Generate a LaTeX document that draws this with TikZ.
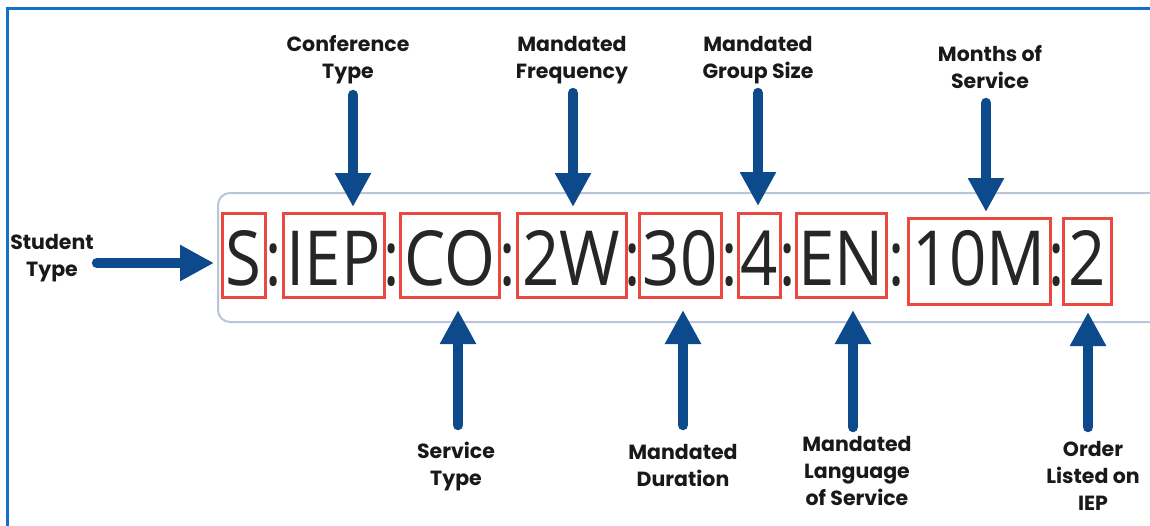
\documentclass[tikz,border=0pt]{standalone}
\usepackage{fontspec}
\setmainfont{Poppins}
\newfontfamily\codefont{Open Sans}[FakeStretch=0.86]
\newfontfamily\colonfont{Open Sans}[FakeStretch=0.8]
\usetikzlibrary{arrows.meta}
\definecolor{arrblue}{RGB}{13,74,140}
\definecolor{boxred}{RGB}{235,72,66}
\definecolor{frameblue}{RGB}{18,114,200}
\definecolor{railgray}{RGB}{186,197,217}
\definecolor{codegray}{RGB}{38,38,38}
\definecolor{labelblack}{RGB}{25,25,25}
\tikzset{
  lbl/.style={font=\bfseries\fontsize{20.5}{27}\selectfont, align=center, text=labelblack, inner sep=0pt},
  segtext/.style={font=\codefont\fontsize{76}{80}\selectfont, text=codegray, inner sep=0pt, anchor=base},
  redbox/.style={draw=boxred, line width=3pt},
  colon/.style={font=\colonfont\fontsize{76}{80}\selectfont, text=codegray, inner sep=0pt, anchor=base},
  arr/.style={draw=arrblue, line width=10.5pt, line cap=round, -{Triangle[width=34pt,length=34pt]}},
  frame/.style={draw=frameblue, line width=3pt},
  rail/.style={draw=railgray, line width=2pt, rounded corners=12pt},
}
\begin{document}
\begin{tikzpicture}[x=1pt,y=-1pt]
\useasboundingbox (0,0) rectangle (1150,525);
\fill[white] (0,0) rectangle (1150,525);
\draw[frame] (7.5,8.5) rectangle (1170,545);
\draw[rail] (218,193) rectangle (1185,322);

% red boxes
\draw[redbox] (222,213) rectangle (265,297);
\draw[redbox] (283,213) rectangle (384,297);
\draw[redbox] (400,213) rectangle (499,297);
\draw[redbox] (517,213) rectangle (626,297);
\draw[redbox] (639,213) rectangle (721,297);
\draw[redbox] (738,213) rectangle (780,297);
\draw[redbox] (796,213) rectangle (886,297);
\draw[redbox] (908,218) rectangle (1050,304);
\draw[redbox] (1063,218) rectangle (1111,304);

% code segments
\node[segtext] (s) at (243.5,285) {S};
\node[segtext] (iep) at (333.5,285) {IEP};
\node[segtext] (co) at (449.5,285) {CO};
\node[segtext] (w2) at (571.5,285) {2W};
\node[segtext] (d30) at (680,285) {30};
\node[segtext] (g4) at (759,285) {4};
\node[segtext] (en) at (841,285) {EN};
\node[segtext] (m10) at (979,285) {10M};
\node[segtext] (o2) at (1087,285) {2};

% colons
\node[colon] (c1) at (274,285) {:};
\node[colon] (c2) at (392,285) {:};
\node[colon] (c3) at (508,285) {:};
\node[colon] (c4) at (632.5,285) {:};
\node[colon] (c5) at (729.5,285) {:};
\node[colon] (c6) at (788,285) {:};
\node[colon] (c7) at (897,285) {:};
\node[colon] (c8) at (1056.5,285) {:};

% labels
\node[lbl] (stu) at (52,258) {Student\\Type};
\node[lbl] (conf) at (348,60) {Conference\\Type};
\node[lbl] (freq) at (572,60) {Mandated\\Frequency};
\node[lbl] (grp) at (758,60) {Mandated\\Group Size};
\node[lbl] (mon) at (990,67) {Months of\\Service};
\node[lbl] (svc) at (456,467) {Service\\Type};
\node[lbl] (dur) at (683,465) {Mandated\\Duration};
\node[lbl] (lang) at (857,471) {Mandated\\Language\\of Service};
\node[lbl] (ord) at (1093,476) {Order\\Listed on\\IEP};

% arrow ends
\coordinate (stu-a) at (97,263);   \coordinate (stu-b) at (214,263);
\coordinate (conf-a) at (353,95);  \coordinate (conf-b) at (353,207);
\coordinate (freq-a) at (573,93);  \coordinate (freq-b) at (573,207);
\coordinate (grp-a) at (758,93);   \coordinate (grp-b) at (758,206);
\coordinate (mon-a) at (986,103);  \coordinate (mon-b) at (986,212);
\coordinate (svc-a) at (458,425);  \coordinate (svc-b) at (458,310);
\coordinate (dur-a) at (683,425);  \coordinate (dur-b) at (683,310);
\coordinate (lang-a) at (853,427); \coordinate (lang-b) at (853,310);
\coordinate (ord-a) at (1088,427); \coordinate (ord-b) at (1088,312);

\foreach \n in {stu,conf,freq,grp,mon,svc,dur,lang,ord}
  \draw[arr] (\n-a) -- (\n-b);
\end{tikzpicture}
\end{document}
